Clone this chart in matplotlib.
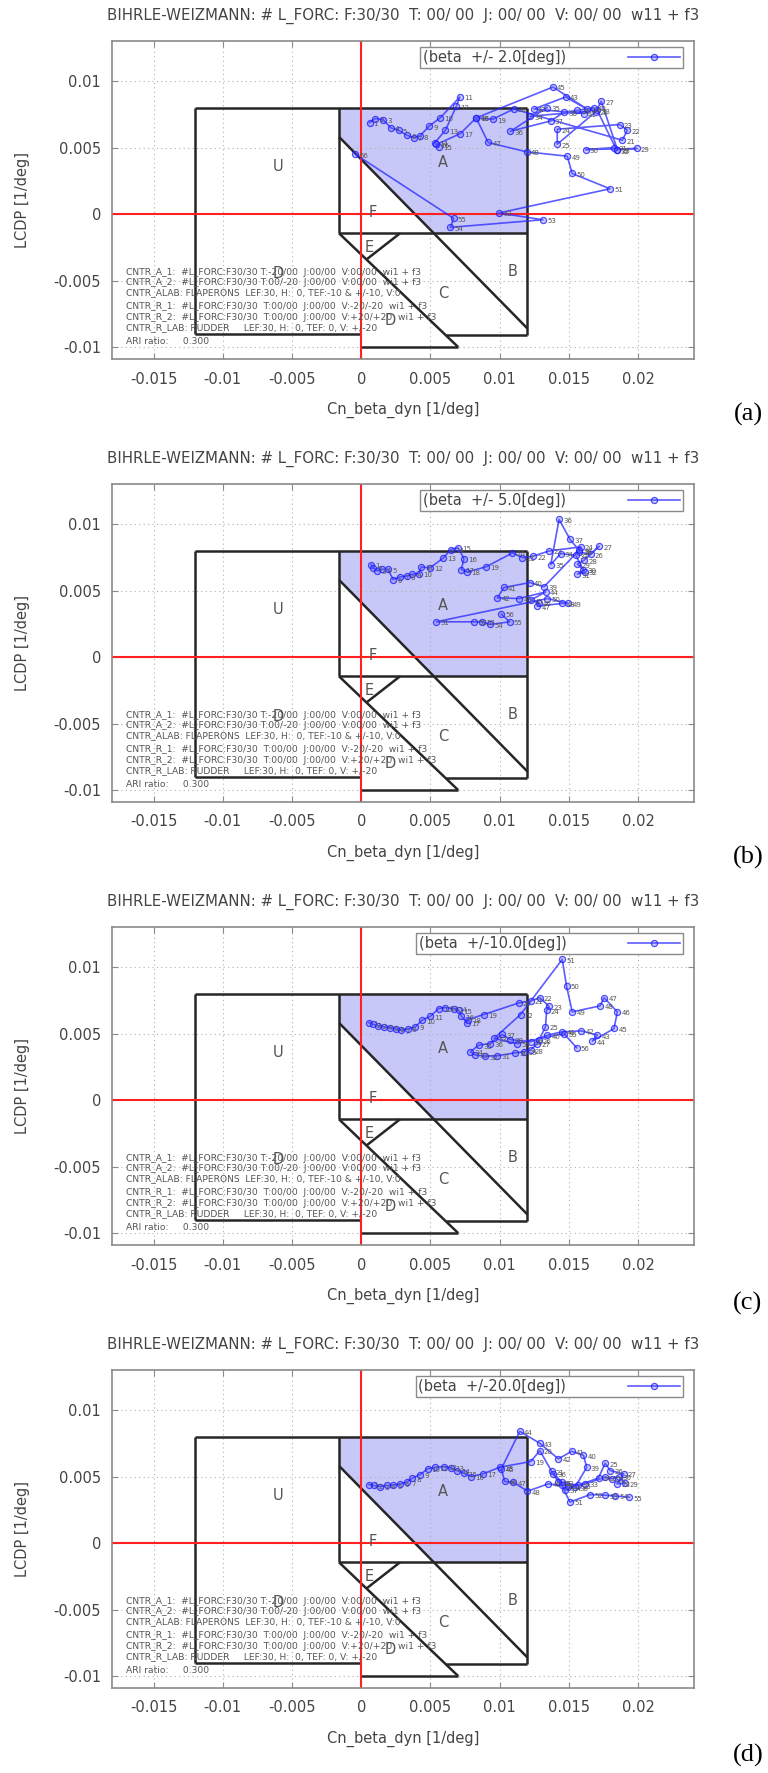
import matplotlib
matplotlib.use("Agg")
import matplotlib.pyplot as plt

# ============================================
# DATA
# ============================================
xtick_vals = [-0.015, -0.01, -0.005, 0, 0.005, 0.01, 0.015, 0.02]
xtick_labels = ["-0.015", "-0.01", "-0.005", "0", "0.005", "0.01", "0.015", "0.02"]
ytick_vals = [-0.01, -0.005, 0, 0.005, 0.01]
ytick_labels = ["-0.01", "-0.005", "0", "0.005", "0.01"]

title_text = "BIHRLE-WEIZMANN: # L_FORC: F:30/30  T: 00/ 00  J: 00/ 00  V: 00/ 00  w11 + f3"
beta_labels = ["(beta  +/- 2.0[deg])", "(beta  +/- 5.0[deg])",
               "(beta  +/-10.0[deg])", "(beta  +/-20.0[deg])"]
panel_tags = ["(a)", "(b)", "(c)", "(d)"]

# boundary segments of the departure criterion regions
bound_x = [[-0.012, 0.012], [-0.012, -0.012], [-0.012, 0.0], [-0.0016, -0.0016],
           [-0.0016, 0.012], [0.012, 0.012], [-0.0016, 0.012], [-0.0016, 0.007],
           [0.0, 0.007], [0.0061, 0.012], [0.0028, 0.0004]]
bound_y = [[0.008, 0.008], [0.008, -0.009], [-0.009, -0.009], [0.008, -0.00145],
           [-0.00145, -0.00145], [0.008, -0.0091], [0.0058, -0.0086], [-0.00145, -0.010],
           [-0.010, -0.010], [-0.0091, -0.0091], [-0.00145, -0.0034]]

# shaded region A
region_a_x = [-0.0016, 0.012, 0.012, 0.00525, -0.0016]
region_a_y = [0.008, 0.008, -0.00145, -0.00145, 0.0058]

region_names = ["U", "A", "F", "E", "B", "D", "C", "D"]
region_x = [-0.0060, 0.0059, 0.0008, 0.00055, 0.0109, -0.0060, 0.0059, 0.0021]
region_y = [0.00355, 0.0039, 0.0001, -0.0025, -0.0043, -0.0045, -0.0060, -0.0080]

info_lines = [
    "CNTR_A_1:  #L_FORC:F30/30 T:-20/00  J:00/00  V:00/00  wi1 + f3",
    "CNTR_A_2:  #L_FORC:F30/30 T:00/-20  J:00/00  V:00/00  wi1 + f3",
    "CNTR_ALAB: FLAPERONS  LEF:30, H:  0, TEF:-10 & +/-10, V:0",
    "CNTR_R_1:  #L_FORC:F30/30  T:00/00  J:00/00  V:-20/-20  wi1 + f3",
    "CNTR_R_2:  #L_FORC:F30/30  T:00/00  J:00/00  V:+20/+20  wi1 + f3",
    "CNTR_R_LAB: RUDDER     LEF:30, H:  0, TEF: 0, V: +/-20",
    "ARI ratio:     0.300",
]
info_y = [-0.00437, -0.00515, -0.0059, -0.00695, -0.00775, -0.00857, -0.00957]
info_x0 = -0.0170

# trajectories (Cn_beta_dyn, LCDP)
traj_a_x = [0.0006, 0.00101, 0.00157, 0.00215, 0.0027, 0.0033, 0.00379, 0.00422, 0.0049, 0.00572,
            0.00712, 0.00687, 0.00608, 0.00531, 0.0056, 0.00543, 0.00716, 0.0083, 0.0095, 0.01102,
            0.01886, 0.01922, 0.01867, 0.01416, 0.01416, 0.01693, 0.01734, 0.0185, 0.0199, 0.01621,
            0.01826, 0.01845, 0.01705, 0.01218, 0.01343, 0.01078, 0.01368, 0.01464, 0.01561, 0.01681,
            0.01609, 0.01247, 0.01476, 0.01633, 0.01385, 0.0083, 0.00917, 0.01194, 0.01488, 0.01524,
            0.01797, 0.00994, 0.01312, 0.00644, 0.00668, -0.00043]
traj_a_y = [0.00688, 0.00718, 0.0071, 0.00648, 0.0063, 0.00593, 0.00575, 0.00585, 0.0066, 0.00725,
            0.0088, 0.0081, 0.0063, 0.00535, 0.00505, 0.00523, 0.00605, 0.00723, 0.00713, 0.0079,
            0.00555, 0.0063, 0.00673, 0.00638, 0.00525, 0.00768, 0.00848, 0.00485, 0.00493, 0.00485,
            0.005, 0.0048, 0.0078, 0.00735, 0.008, 0.00623, 0.007, 0.00765, 0.0078, 0.008,
            0.00755, 0.0079, 0.0088, 0.00788, 0.00955, 0.00723, 0.00538, 0.00468, 0.00435, 0.00305,
            0.0019, 0.00008, -0.00043, -0.001, -0.00033, 0.0045]

traj_b_x = [0.00072, 0.00087, 0.00116, 0.00152, 0.00193, 0.00231, 0.0028, 0.00328, 0.00369, 0.00417,
            0.00434, 0.00496, 0.00593, 0.00646, 0.00699, 0.00742, 0.00723, 0.00766, 0.00901, 0.01092,
            0.01164, 0.01241, 0.01357, 0.01586, 0.01574, 0.01658, 0.01718, 0.0161, 0.01561, 0.01605,
            0.01561, 0.01614, 0.01549, 0.01441, 0.01369, 0.01429, 0.01508, 0.01574, 0.0132, 0.01219,
            0.01031, 0.00983, 0.0114, 0.01333, 0.01224, 0.01284, 0.01272, 0.01453, 0.01494, 0.01345,
            0.00542, 0.00814, 0.00875, 0.0093, 0.01072, 0.01012]
traj_b_y = [0.00695, 0.0067, 0.00648, 0.0066, 0.0066, 0.00583, 0.00603, 0.00608, 0.00623, 0.00628,
            0.00678, 0.0067, 0.00745, 0.00808, 0.00823, 0.0074, 0.00658, 0.0064, 0.00678, 0.00783,
            0.00748, 0.00758, 0.00798, 0.00828, 0.0079, 0.00773, 0.00833, 0.00728, 0.00698, 0.00658,
            0.00623, 0.0064, 0.00765, 0.00778, 0.00695, 0.01035, 0.00885, 0.00803, 0.00528, 0.0056,
            0.00523, 0.00445, 0.0044, 0.0049, 0.00428, 0.00408, 0.00383, 0.00403, 0.00403, 0.0044,
            0.00265, 0.00265, 0.00265, 0.00245, 0.00265, 0.00323]

traj_c_x = [0.00053, 0.00084, 0.00118, 0.00162, 0.00205, 0.00248, 0.00287, 0.00335, 0.00391, 0.00439,
            0.00499, 0.0056, 0.00608, 0.00668, 0.00704, 0.00724, 0.00765, 0.00769, 0.00885, 0.01138,
            0.01223, 0.0129, 0.01356, 0.01339, 0.01331, 0.01283, 0.01271, 0.01223, 0.01175, 0.01114,
            0.00982, 0.00897, 0.00825, 0.00789, 0.00849, 0.00933, 0.01018, 0.01078, 0.01223, 0.01343,
            0.01452, 0.0159, 0.01705, 0.01669, 0.01826, 0.0185, 0.01754, 0.01725, 0.01524, 0.01483,
            0.01452, 0.01151, 0.00958, 0.01126, 0.01464, 0.01556]
traj_c_y = [0.00583, 0.0057, 0.0056, 0.0055, 0.00545, 0.00535, 0.00525, 0.00535, 0.0055, 0.006,
            0.0063, 0.00688, 0.00695, 0.00688, 0.00675, 0.0063, 0.0058, 0.00605, 0.00643, 0.0073,
            0.00745, 0.0077, 0.00705, 0.00675, 0.0055, 0.0045, 0.00425, 0.00375, 0.00363, 0.00355,
            0.00333, 0.0033, 0.00338, 0.00363, 0.00413, 0.00425, 0.00493, 0.00455, 0.00438, 0.00488,
            0.00513, 0.0052, 0.00488, 0.00443, 0.00538, 0.00663, 0.0077, 0.00708, 0.00663, 0.00858,
            0.01058, 0.00643, 0.00463, 0.00425, 0.005, 0.00393]

traj_d_x = [0.00056, 0.00092, 0.00136, 0.00184, 0.00232, 0.00281, 0.00329, 0.0037, 0.00426, 0.00479,
            0.00533, 0.00596, 0.00649, 0.00692, 0.00741, 0.00794, 0.00879, 0.01, 0.01225, 0.0129,
            0.01375, 0.01448, 0.01569, 0.01714, 0.01762, 0.01799, 0.01896, 0.01847, 0.01908, 0.01859,
            0.01811, 0.01762, 0.01617, 0.01496, 0.01424, 0.01387, 0.01472, 0.01545, 0.01629, 0.01605,
            0.0152, 0.01424, 0.0129, 0.01145, 0.01012, 0.01036, 0.01097, 0.01201, 0.01351, 0.01448,
            0.01508, 0.01654, 0.01762, 0.01835, 0.01937]
traj_d_y = [0.0044, 0.00433, 0.00425, 0.00433, 0.00435, 0.00445, 0.00458, 0.00488, 0.00515, 0.00558,
            0.0057, 0.00575, 0.00565, 0.00545, 0.00525, 0.005, 0.0052, 0.0057, 0.00613, 0.00695,
            0.0054, 0.00458, 0.00433, 0.0049, 0.006, 0.00545, 0.0052, 0.00445, 0.0045, 0.005,
            0.00483, 0.00495, 0.00445, 0.0042, 0.00458, 0.0052, 0.004, 0.0042, 0.0057, 0.0066,
            0.0069, 0.00633, 0.0075, 0.0084, 0.00558, 0.00463, 0.00458, 0.0039, 0.00445, 0.00433,
            0.00308, 0.00365, 0.0036, 0.00353, 0.00345]

traj_x = [traj_a_x, traj_b_x, traj_c_x, traj_d_x]
traj_y = [traj_a_y, traj_b_y, traj_c_y, traj_d_y]

# ============================================
# LAYOUT (pixels of the 768x1773 page)
# ============================================
W, H = 768, 1773
PANEL_STEP = 443
AX_LEFT, AX_RIGHT, AX_TOP, AX_BOTTOM = 112, 693.5, 40.5, 359
tag_y = [414, 857, 1303, 1755]

TXT = "#444444"
FRAME = "#8a8a8a"
LINEC = "#262626"

fig = plt.figure(figsize=(W / 100, H / 100), dpi=100)

for k in range(4):
    off = k * PANEL_STEP
    ax = fig.add_axes([AX_LEFT / W, 1 - (AX_BOTTOM + off) / H,
                       (AX_RIGHT - AX_LEFT) / W, (AX_BOTTOM - AX_TOP) / H])
    ax.set_xlim(-0.018, 0.024)
    ax.set_ylim(-0.0109, 0.01305)

    # shaded region A
    ax.fill(region_a_x, region_a_y, color="#c8c8f8", lw=0, zorder=0.2)

    # grid
    ax.set_axisbelow(True)
    ax.grid(True, color="#b0b0b0", lw=0.8, linestyle=(0, (1, 3)))

    # region boundaries
    for bx, by in zip(bound_x, bound_y):
        ax.plot(bx, by, color=LINEC, lw=1.8, solid_capstyle="butt", zorder=2)

    # zero lines
    ax.axhline(0, color="#ff2020", lw=1.5, zorder=2.5)
    ax.axvline(0, color="#ff2020", lw=1.5, zorder=2.5)

    for name, rx, ry in zip(region_names, region_x, region_y):
        ax.text(rx, ry, name, fontsize=10.5, color="#555555", ha="center", va="center", zorder=2.6)

    for line, ly in zip(info_lines, info_y):
        ax.text(info_x0, ly, line, fontsize=6.6, color="#555555", ha="left", va="center", zorder=2.6)

    # trajectory
    tx, ty = traj_x[k], traj_y[k]
    ax.plot(tx, ty, color=(0.15, 0.15, 1.0, 0.75), lw=1.2, marker="o", ms=4.4,
            mfc=(0.35, 0.35, 1.0, 0.3), mec=(0.1, 0.1, 1.0, 0.75), mew=0.9,
            label=beta_labels[k], zorder=3)
    for i, (px, py) in enumerate(zip(tx, ty)):
        ax.annotate(str(i + 1), (px, py), xytext=(3, -1), textcoords="offset points",
                    fontsize=5, color="#555555", va="center", zorder=3.1)

    # axes styling
    for sp in ax.spines.values():
        sp.set_color(FRAME)
        sp.set_linewidth(1.2)
    ax.set_xticks(xtick_vals)
    ax.set_xticklabels(xtick_labels)
    ax.set_yticks(ytick_vals)
    ax.set_yticklabels(ytick_labels)
    ax.tick_params(direction="in", length=4, width=0.8, color=FRAME, labelcolor=TXT,
                   labelsize=10.5, top=True, right=True)
    ax.tick_params(axis="x", pad=9)
    ax.tick_params(axis="y", pad=8)

    ax.set_xlabel("Cn_beta_dyn [1/deg]", fontsize=10.5, color=TXT, va="center")
    ax.xaxis.set_label_coords(0.5, -(410 - AX_BOTTOM) / (AX_BOTTOM - AX_TOP))
    ax.set_ylabel("LCDP [1/deg]", fontsize=10.5, color=TXT, va="center")
    ax.yaxis.set_label_coords(-(AX_LEFT - 22.7) / (AX_RIGHT - AX_LEFT), 0.5)

    ax.set_title(title_text, fontsize=10.8, color=TXT, pad=15)

    leg = ax.legend(loc="upper right", bbox_to_anchor=(0.982, 0.98), fontsize=10.5,
                    markerfirst=False, handlelength=3.6, handletextpad=4.2,
                    borderpad=0.2, borderaxespad=0, fancybox=False, framealpha=1)
    leg.get_frame().set_edgecolor(FRAME)
    leg.get_frame().set_linewidth(1.0)
    for t in leg.get_texts():
        t.set_color(TXT)

    fig.text(748 / W, 1 - tag_y[k] / H, panel_tags[k], fontsize=19,
             family="Liberation Serif", ha="center", va="center", color="black")

fig.savefig("out.png", dpi=100)
